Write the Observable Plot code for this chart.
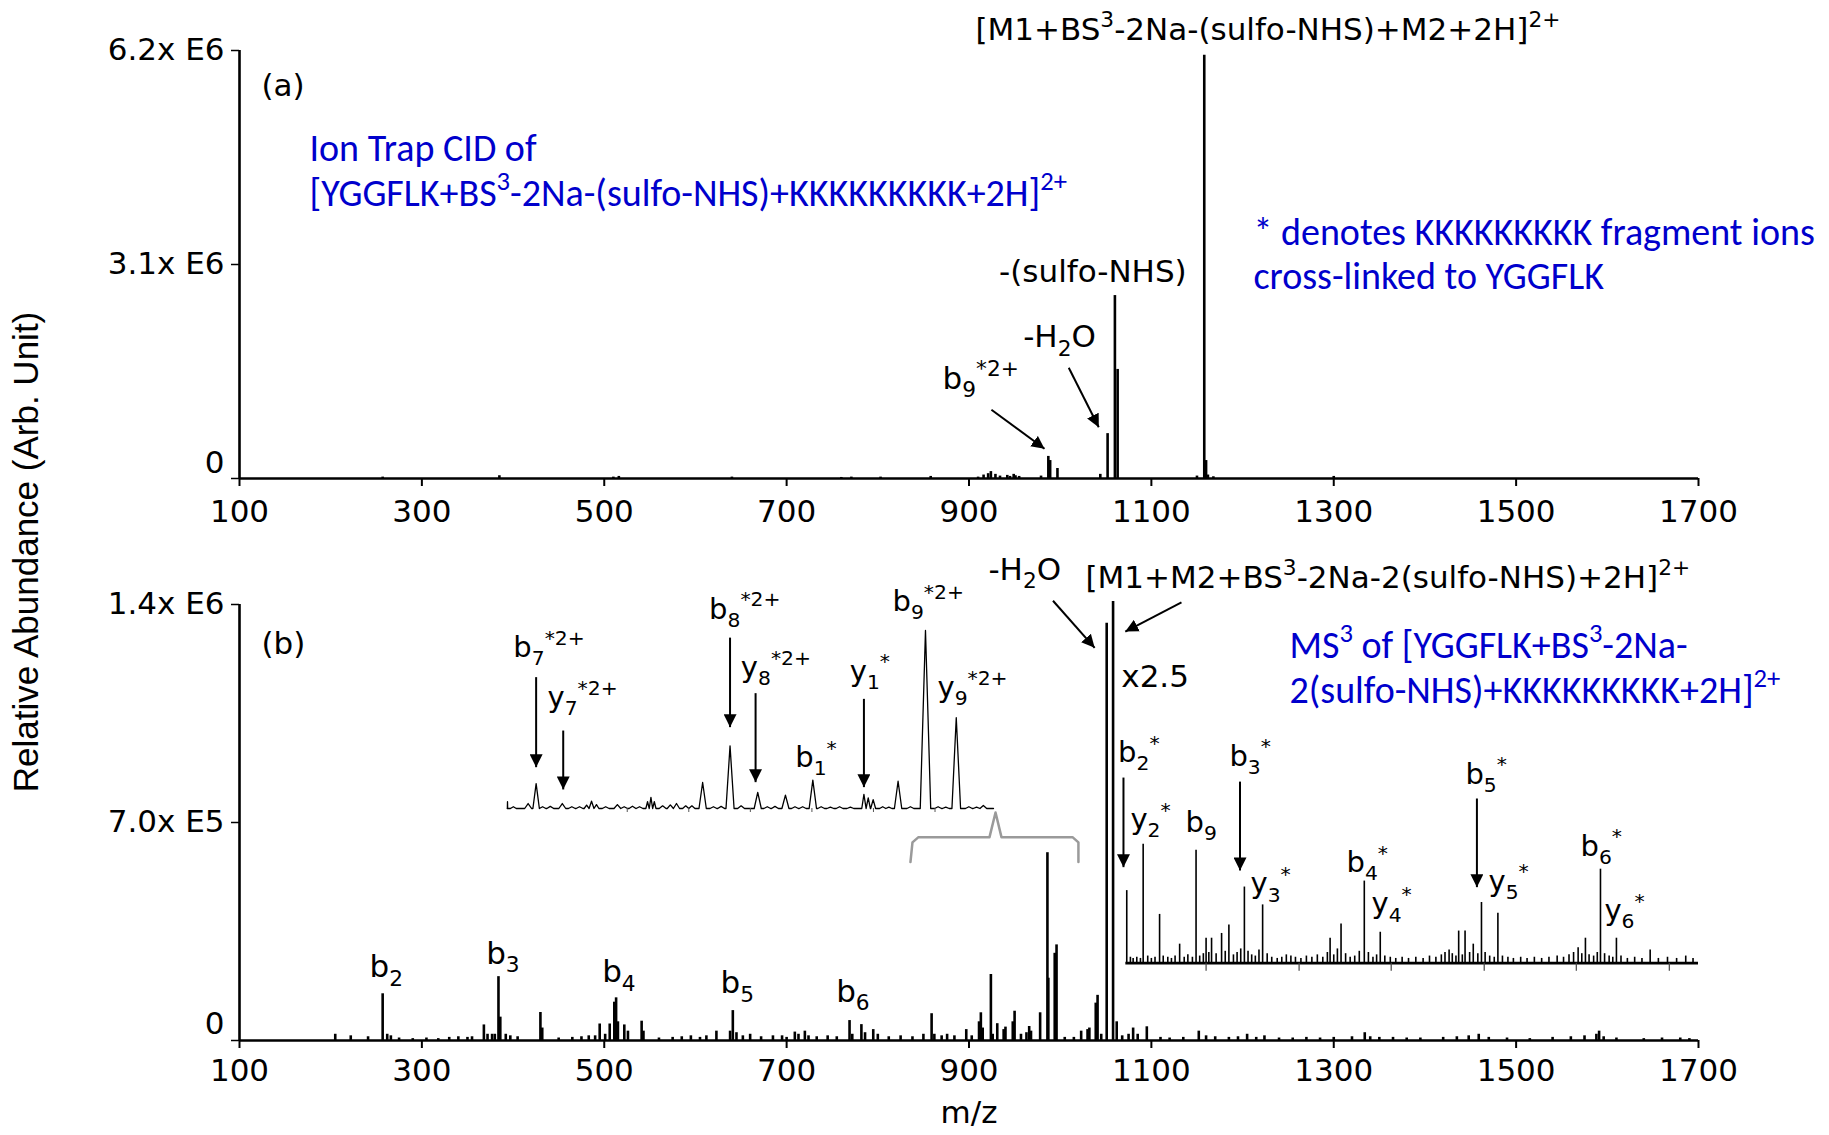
<!DOCTYPE html>
<html><head><meta charset="utf-8">
<script src="https://cdn.jsdelivr.net/npm/d3@7"></script>
<script src="https://cdn.jsdelivr.net/npm/@observablehq/plot@0.6"></script>
<style>
html,body{margin:0;padding:0;background:#fff;}
#wrap{position:relative;width:1829px;height:1135px;overflow:hidden;background:#fff;}
#wrap svg{position:absolute;overflow:visible;background:transparent;}
#ytitle{position:absolute;left:26px;top:552px;transform:translate(-50%,-50%) rotate(-90deg);font-family:"Liberation Sans",Arial,sans-serif;font-size:35px;white-space:nowrap;color:#000;}
</style></head>
<body><div id="wrap"><div id="ytitle">Relative Abundance (Arb. Unit)</div></div>
<script>
// ---------------- axes ----------------
const xTicks = [100, 300, 500, 700, 900, 1100, 1300, 1500, 1700];
const yTicksA = [0, 3.1, 6.2];
const yTickLabelsA = ["0", "3.1x E6", "6.2x E6"];
const yTicksB = [0, 0.7, 1.4];
const yTickLabelsB = ["0", "7.0x E5", "1.4x E6"];

// ---------------- panel (a): ion trap CID (intensity in 1E6) ----------------
const mzA  = [257, 385, 510, 516, 640, 760, 771, 803, 858, 910, 916, 921, 924, 929, 934, 942, 945, 949, 951, 955, 979, 987, 989, 997, 1044, 1052, 1060, 1063, 1150, 1158, 1160, 1162, 1168, 1300];
const intA = [0.02, 0.04, 0.02, 0.03, 0.02, 0.015, 0.02, 0.02, 0.03, 0.02, 0.05, 0.07, 0.1, 0.06, 0.035, 0.045, 0.03, 0.06, 0.04, 0.03, 0.035, 0.32, 0.26, 0.145, 0.06, 0.65, 2.65, 1.58, 0.035, 6.13, 0.26, 0.05, 0.025, 0.03];

// ---------------- panel (b): MS3 (intensity in 1E6) ----------------
const mzB = [205,222,241,257,262,266,275,290,305,318,
  330,340,350,355,368,372,377,380,384,386,
  392,397,405,430,432,450,465,475,483,490,
  495,501,506,511,513,515,522,526,541,543,
  560,575,585,595,605,612,623,638,641,645,
  652,660,672,685,695,700,709,713,720,724,
  733,745,755,769,772,782,786,795,800,812,
  825,838,850,859,862,870,876,884,897,903,
  911,913,915,924,926,931,938,940,948,950,
  957,963,966,968,978,986,987,994,996,1005,
  1015,1023,1030,1032,1039,1041,1045,1051,1058,1062,
  1068,1075,1080,1085,1095,1110,1120,1135,1152,1160,
  1170,1185,1195,1205,1215,1224,1240,1255,1270,1285,
  1300,1320,1334,1340,1350,1365,1380,1395,1420,1435,
  1448,1459,1470,1490,1515,1540,1560,1575,1588,1591,
  1596,1610,1640,1660,1680,1690];
const intB = [0.02,0.015,0.012,0.15,0.02,0.015,0.008,0.006,0.008,0.006,
  0.01,0.012,0.01,0.012,0.05,0.02,0.02,0.02,0.205,0.075,
  0.02,0.015,0.012,0.09,0.04,0.008,0.01,0.012,0.015,0.015,
  0.053,0.02,0.053,0.123,0.137,0.06,0.05,0.03,0.062,0.03,
  0.008,0.01,0.012,0.015,0.01,0.015,0.03,0.03,0.096,0.025,
  0.015,0.02,0.012,0.015,0.015,0.01,0.027,0.02,0.03,0.015,
  0.012,0.015,0.012,0.064,0.02,0.051,0.025,0.035,0.02,0.012,
  0.015,0.012,0.02,0.086,0.02,0.015,0.02,0.015,0.035,0.015,
  0.06,0.089,0.04,0.212,0.02,0.054,0.035,0.043,0.06,0.094,
  0.02,0.025,0.045,0.03,0.089,0.603,0.2,0.28,0.307,0.01,
  0.01,0.03,0.035,0.04,0.12,0.145,0.02,1.34,1.41,0.06,
  0.015,0.02,0.04,0.02,0.044,0.01,0.008,0.01,0.03,0.015,
  0.012,0.01,0.012,0.02,0.01,0.015,0.008,0.008,0.01,0.008,
  0.01,0.012,0.025,0.012,0.01,0.01,0.008,0.008,0.01,0.012,
  0.015,0.02,0.01,0.008,0.006,0.01,0.012,0.015,0.02,0.03,
  0.012,0.008,0.006,0.008,0.008,0.006];

// ---------------- right inset (x2.5), relative % of y2* ----------------
const mzR = [1073,1077,1080,1084,1088,1091,1096,1100,1104,1109,
  1113,1118,1122,1126,1131,1136,1140,1145,1149,1153,
  1157,1160,1163,1166,1171,1177,1181,1185,1190,1194,
  1198,1202,1206,1210,1214,1218,1222,1227,1232,1238,
  1243,1248,1253,1258,1264,1270,1276,1282,1288,1293,
  1296,1300,1304,1308,1313,1318,1323,1328,1333.5,1338,
  1343,1347,1351,1356,1362,1368,1375,1382,1390,1398,
  1405,1412,1418,1422,1426.5,1430,1434,1437,1441,1444,
  1449,1453,1458,1462,1466,1471,1476,1480,1485,1491,
  1497,1505,1512,1520,1528,1536,1545,1552,1558,1563,
  1568,1572,1576,1580,1585,1589,1592.5,1597,1602,1606,
  1610,1615,1622,1630,1638,1647,1656,1666,1676,1686,
  1694];
const relR = [61,5,4,5,4,100,6,4,5,41,
  6,5,4,6,16,5,7,5,95,6,
  8,21,9,21,8,25,10,32,7,9,
  12,64,10,7,6,11,49,8,5,4,
  5,7,6,5,4,6,5,7,5,9,
  21,7,12,33,8,5,6,10,69,9,
  5,7,26,6,5,4,5,4,5,4,
  6,5,7,9,11,8,6,27,7,27,
  9,16,8,51,9,6,5,42,6,5,
  4,5,4,5,4,5,6,5,7,9,
  13,8,21,7,6,9,79,8,6,5,
  21,6,4,5,4,11,4,5,4,6,
  4];
const insetRSpan = [1072, 1700];
const insetRTicks = [1160, 1262, 1363, 1465, 1566, 1668];

// ---------------- left inset (zoom of m/z 851-1009), relative % of b9*2+ ----------------
const mzL = [851.1,853,857.8,860.4,862.5,865,868.9,872,874.5,876.8,
  878.4,880,883,886.8,889,891.7,894,896.6,897.7,898.8,
  901.5,904,906,909,911,914.5,918,920.5,923.4,927,
  932.4,935.5,938,941.4,944.5,947,950.3,953,956,959,
  962.5,966.9,968.3,969.9,973,975,978,982,986.9,991,
  993.5,996.9,1001,1003.5,1005.7];
const relL = [3.8,1,2.8,14,1,1.2,2.8,1,1,1.9,
  4.1,2.2,1,2.2,1,1.3,1,3.8,6.2,3.8,
  1.5,2.0,2.8,1.5,1.5,14.6,1,1.2,35.2,1.5,
  9,1,1.2,7.5,1,1,15.9,1,0.8,1,
  0.8,7.9,6,5,1,0.8,15.3,1,100,1,
  0.8,51,1,0.8,1.7];
const insetLDomain = [851, 1009];
const insetLTicks = [890, 910, 930, 950, 970, 990];

// ---------------- annotations (data coordinates) ----------------
const labelsA = [
  {t: "[M1+BS^{3}-2Na-(sulfo-NHS)+M2+2H]^{2+}", mz: 907, v: 6.35},
  {t: "-(sulfo-NHS)", mz: 933, v: 2.845},
  {t: "-H_{2}O", mz: 959.4, v: 1.9},
  {t: "b_{9}^{*2+}", mz: 871, v: 1.3}
];
const arrowsA = [
  {x1: 924.6, y1: 0.996, x2: 982.8, y2: 0.43},
  {x1: 1009.4, y1: 1.604, x2: 1042.3, y2: 0.743}
];
const blueA = ["Ion Trap CID of", "[YGGFLK+BS^{3}-2Na-(sulfo-NHS)+KKKKKKKKK+2H]^{2+}"];
const blueA2 = ["* denotes KKKKKKKKK fragment ions", "cross-linked to YGGFLK"];
const labelsB = [
  {t: "b_{2}", mz: 242.6, v: 0.203},
  {t: "b_{3}", mz: 370.5, v: 0.247},
  {t: "b_{4}", mz: 497.7, v: 0.187},
  {t: "b_{5}", mz: 627.5, v: 0.151},
  {t: "b_{6}", mz: 754.3, v: 0.125},
  {t: "-H_{2}O", mz: 921.3, v: 1.48},
  {t: "[M1+M2+BS^{3}-2Na-2(sulfo-NHS)+2H]^{2+}", mz: 1027.7, v: 1.452},
  {t: "x2.5", mz: 1067, v: 1.134}
];
const arrowsB = [
  {x1: 992.1, y1: 1.412, x2: 1037.8, y2: 1.261},
  {x1: 1133, y1: 1.407, x2: 1071.4, y2: 1.313}
];
const bracketMz = [835.8, 838, 844.6, 922.5, 929.1, 935.6, 1013.5, 1020, 1020];
const bracketV  = [0.573, 0.636, 0.653, 0.653, 0.732, 0.653, 0.653, 0.636, 0.573];
const blueB = ["MS^{3} of [YGGFLK+BS^{3}-2Na-", "2(sulfo-NHS)+KKKKKKKKK+2H]^{2+}"];
const labelsR = [
  {t: "b_{2}^{*}", mz: 1063.5, v: 169},
  {t: "y_{2}^{*}", mz: 1077, v: 113},
  {t: "b_{9}", mz: 1137.4, v: 110},
  {t: "b_{3}^{*}", mz: 1185.6, v: 166},
  {t: "y_{3}^{*}", mz: 1208.7, v: 58.6},
  {t: "b_{4}^{*}", mz: 1314, v: 76.5},
  {t: "y_{4}^{*}", mz: 1341.4, v: 41.8},
  {t: "b_{5}^{*}", mz: 1444.4, v: 151},
  {t: "y_{5}^{*}", mz: 1469.7, v: 61},
  {t: "b_{6}^{*}", mz: 1570.6, v: 90.5},
  {t: "y_{6}^{*}", mz: 1596.8, v: 36}
];
const arrowsR = [
  {mz: 1069.4, v1: 156, v2: 80.7},
  {mz: 1197.2, v1: 152.6, v2: 77.9},
  {mz: 1457, v1: 138.4, v2: 63.9}
];
const labelsL = [
  {t: "b_{7}^{*2+}", mz: 853, v: 85},
  {t: "y_{7}^{*2+}", mz: 864.1, v: 57},
  {t: "b_{8}^{*2+}", mz: 916.6, v: 106.7},
  {t: "y_{8}^{*2+}", mz: 926.9, v: 73.8},
  {t: "b_{1}^{*}", mz: 944.6, v: 23.2},
  {t: "y_{1}^{*}", mz: 962.3, v: 71.9},
  {t: "b_{9}^{*2+}", mz: 976.2, v: 111},
  {t: "y_{9}^{*2+}", mz: 990.8, v: 62.5}
];
const arrowsL = [
  {mz: 860.4, v1: 73.8, v2: 23.2},
  {mz: 869.2, v1: 43.8, v2: 10.7},
  {mz: 923.4, v1: 96, v2: 45.7},
  {mz: 931.7, v1: 64.8, v2: 14.8},
  {mz: 966.9, v1: 61.6, v2: 12}
];

// ---------------- build ----------------
const W = 1829;
const NS = "http://www.w3.org/2000/svg";
const BLACKFONT = "DejaVu Sans";
const BLUEFONT = "Carlito, Lato, sans-serif";
const BLUE = "#0000CC";
const BLUESIZE = 38;
const wrap = document.getElementById("wrap");

const peaksA = mzA.map((mz, i) => ({mz, v: intA[i]}));
const peaksB = mzB.map((mz, i) => ({mz, v: intB[i]}));
const peaksR = mzR.map((mz, i) => ({mz, v: relR[i]}));
const bracket = bracketMz.map((mz, i) => ({mz, v: bracketV[i]}));

// peak profile of the left inset (each peak drawn as a narrow triangle on the baseline)
const profileL = [{mz: insetLDomain[0], v: 0}];
mzL.forEach((c, i) => {
  const prev = i > 0 ? mzL[i - 1] : insetLDomain[0];
  const next = i < mzL.length - 1 ? mzL[i + 1] : insetLDomain[1];
  const w = Math.min(1.1 + 0.006 * relL[i], (c - prev) / 2, (next - c) / 2);
  profileL.push({mz: c - w, v: 0}, {mz: c, v: relL[i]}, {mz: c + w, v: 0});
});
profileL.push({mz: insetLDomain[1], v: 0});

function richify(svg) {
  svg.querySelectorAll("text").forEach(t => {
    const s = t.textContent;
    if (!/[_^]\{/.test(s)) return;
    const F = parseFloat(getComputedStyle(t).fontSize);
    const parts = s.split(/([_^]\{[^}]*\})/).filter(p => p.length);
    t.textContent = "";
    let cur = 0;
    for (const p of parts) {
      const ts = document.createElementNS(NS, "tspan");
      let target = 0, txt = p, small = false;
      if (p.startsWith("_{")) { target = 0.28 * F; txt = p.slice(2, -1); small = true; }
      else if (p.startsWith("^{")) { target = -0.42 * F; txt = p.slice(2, -1); small = true; }
      if (target !== cur) ts.setAttribute("dy", (target - cur).toFixed(2));
      cur = target;
      if (small) ts.setAttribute("font-size", (0.7 * F).toFixed(1));
      ts.textContent = txt;
      t.appendChild(ts);
    }
  });
}
let mk = 0;
function arrowheads(svg, size) {
  const id = "ah" + (mk++);
  const defs = document.createElementNS(NS, "defs");
  const m = document.createElementNS(NS, "marker");
  m.setAttribute("id", id);
  m.setAttribute("viewBox", "0 0 10 10");
  m.setAttribute("refX", "10");
  m.setAttribute("refY", "5");
  m.setAttribute("markerWidth", size);
  m.setAttribute("markerHeight", size);
  m.setAttribute("markerUnits", "userSpaceOnUse");
  m.setAttribute("orient", "auto");
  const p = document.createElementNS(NS, "path");
  p.setAttribute("d", "M0,0L10,5L0,10z");
  p.setAttribute("fill", "black");
  m.appendChild(p); defs.appendChild(m);
  svg.insertBefore(defs, svg.firstChild);
  svg.querySelectorAll('g[aria-label="link"] path').forEach(q => q.setAttribute("marker-end", `url(#${id})`));
}
function place(svg, left, top, head) {
  svg.style.left = left + "px";
  svg.style.top = top + "px";
  wrap.appendChild(svg);
  richify(svg);
  arrowheads(svg, head);
}
const baseStyle = {fontFamily: BLACKFONT, fontSize: "31px", color: "black", background: "transparent", overflow: "visible"};
function blue(text, dx, dy) {
  return Plot.text([text], {frameAnchor: "top-left", dx, dy, textAnchor: "start", lineAnchor: "bottom", text: d => d, fill: BLUE, fontFamily: BLUEFONT, fontSize: BLUESIZE});
}

// panel (a)
const plotA = Plot.plot({
  width: W, height: 540,
  marginLeft: 239, marginRight: 131, marginTop: 50, marginBottom: 62,
  x: {domain: [100, 1700]},
  y: {domain: [0, 6.2]},
  style: baseStyle,
  marks: [
    Plot.ruleX(peaksA, {x: "mz", y1: 0, y2: "v", stroke: "black", strokeWidth: 2.6}),
    Plot.ruleY([0], {stroke: "black", strokeWidth: 2.6}),
    Plot.ruleX([100], {y1: 0, y2: 6.2, stroke: "black", strokeWidth: 2.6}),
    Plot.axisX({ticks: xTicks, tickSize: 8, tickPadding: 13, tickFormat: d => String(d), label: null, strokeWidth: 2}),
    Plot.axisY({ticks: yTicksA, tickSize: 8, tickPadding: 7, tickFormat: d => d === 0 ? "" : yTickLabelsA[yTicksA.indexOf(d)], label: null, strokeWidth: 1.5}),
    Plot.text([0], {y: d => d, frameAnchor: "left", textAnchor: "end", dx: -15, dy: -15, text: d => yTickLabelsA[yTicksA.indexOf(d)]}),
    Plot.text(["(a)"], {frameAnchor: "top-left", dx: 22, dy: 45, textAnchor: "start", lineAnchor: "bottom", text: d => d, fontSize: 31}),
    Plot.text(labelsA, {x: "mz", y: "v", text: "t", textAnchor: "start", lineAnchor: "bottom", fontSize: 31}),
    Plot.link(arrowsA, {x1: "x1", y1: "y1", x2: "x2", y2: "y2", stroke: "black", strokeWidth: 2}),
    blue(blueA[0], 70, 110),
    blue(blueA[1], 70, 155),
    blue(blueA2[0], 1014, 194),
    blue(blueA2[1], 1014, 238)
  ]
});

// panel (b)
const plotB = Plot.plot({
  width: W, height: 595,
  marginLeft: 239, marginRight: 131, marginTop: 64, marginBottom: 95,
  x: {domain: [100, 1700]},
  y: {domain: [0, 1.4]},
  style: baseStyle,
  marks: [
    Plot.line(bracket, {x: "mz", y: "v", stroke: "#9a9a9a", strokeWidth: 2.5}),
    Plot.ruleX(peaksB, {x: "mz", y1: 0, y2: "v", stroke: "black", strokeWidth: 2.6}),
    Plot.ruleY([0], {stroke: "black", strokeWidth: 2.6}),
    Plot.ruleX([100], {y1: 0, y2: 1.4, stroke: "black", strokeWidth: 2.6}),
    Plot.axisX({ticks: xTicks, tickSize: 8, tickPadding: 10, tickFormat: d => String(d), label: null, strokeWidth: 2}),
    Plot.axisY({ticks: yTicksB, tickSize: 8, tickPadding: 7, tickFormat: d => d === 0 ? "" : yTickLabelsB[yTicksB.indexOf(d)], label: null, strokeWidth: 1.5}),
    Plot.text([0], {y: d => d, frameAnchor: "left", textAnchor: "end", dx: -15, dy: -16, text: d => yTickLabelsB[yTicksB.indexOf(d)]}),
    Plot.text(["m/z"], {frameAnchor: "bottom", dy: 82, text: d => d, fontSize: 31}),
    Plot.text(["(b)"], {frameAnchor: "top-left", dx: 22, dy: 49, textAnchor: "start", lineAnchor: "bottom", text: d => d, fontSize: 31}),
    Plot.text(labelsB, {x: "mz", y: "v", text: "t", textAnchor: "start", lineAnchor: "bottom", fontSize: 31}),
    Plot.link(arrowsB, {x1: "x1", y1: "y1", x2: "x2", y2: "y2", stroke: "black", strokeWidth: 2}),
    blue(blueB[0], 1050, 53),
    blue(blueB[1], 1050, 98)
  ]
});

// right inset (same m/z scale as panel b, magnified)
const plotR = Plot.plot({
  width: W, height: 300,
  marginLeft: 239, marginRight: 131, marginTop: 24.7, marginBottom: 37.3,
  x: {domain: [100, 1700]},
  y: {domain: [0, 200], axis: null},
  style: baseStyle,
  marks: [
    Plot.ruleX(peaksR, {x: "mz", y1: 0, y2: "v", stroke: "black", strokeWidth: 1.6}),
    Plot.ruleY([0], {x1: insetRSpan[0], x2: insetRSpan[1], stroke: "black", strokeWidth: 2.8}),
    Plot.axisX({ticks: insetRTicks, tickSize: 8, tickFormat: () => "", label: null, stroke: "#444", strokeWidth: 1.2}),
    Plot.link(arrowsR, {x1: "mz", x2: "mz", y1: "v1", y2: "v2", stroke: "black", strokeWidth: 2}),
    Plot.text(labelsR, {x: "mz", y: "v", text: "t", textAnchor: "start", lineAnchor: "bottom", fontSize: 29})
  ]
});

// left inset (zoom of the bracketed m/z region)
const plotL = Plot.plot({
  width: 560, height: 280,
  marginLeft: 26.7, marginRight: 47, marginTop: 25.5, marginBottom: 32,
  x: {domain: insetLDomain},
  y: {domain: [0, 125], axis: null},
  style: baseStyle,
  marks: [
    Plot.line(profileL, {x: "mz", y: "v", stroke: "black", strokeWidth: 1.3}),
    Plot.axisX({ticks: insetLTicks, tickSize: 4, tickFormat: () => "", label: null, stroke: "#555", strokeWidth: 1}),
    Plot.link(arrowsL, {x1: "mz", x2: "mz", y1: "v1", y2: "v2", stroke: "black", strokeWidth: 2}),
    Plot.text(labelsL, {x: "mz", y: "v", text: "t", textAnchor: "start", lineAnchor: "bottom", fontSize: 29})
  ]
});

place(plotB, 0, 540, 13);
place(plotR, 0, 700, 13);
place(plotL, 480, 560, 13);
place(plotA, 0, 0, 13);
</script>
</body></html>
